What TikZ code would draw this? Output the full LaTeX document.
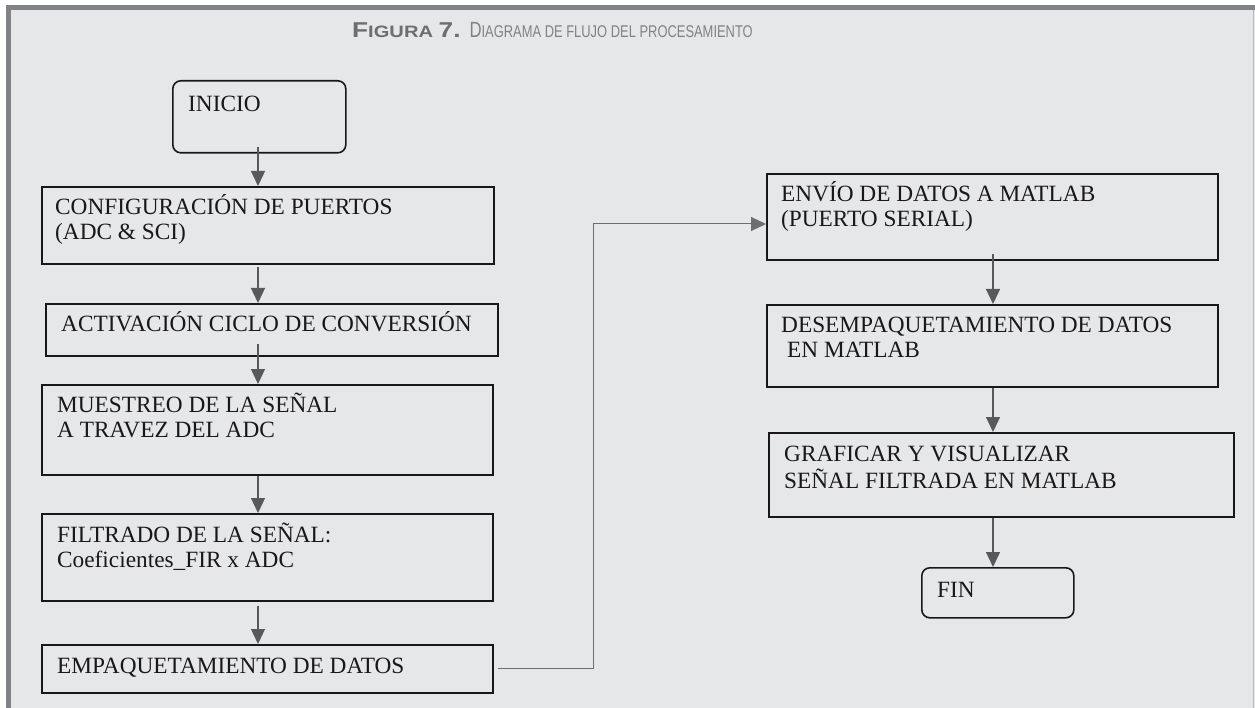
\documentclass[tikz,border=0pt]{standalone}
\usepackage{fontspec}
\setmainfont{Liberation Serif}
\newfontfamily\boxfont{Liberation Serif}
\newfontfamily\titlefont{Liberation Sans}
\usetikzlibrary{arrows.meta,calc}
\definecolor{bg}{HTML}{E6E7E8}
\definecolor{bar}{HTML}{808285}
\definecolor{rline}{HTML}{B8B9BB}
\definecolor{ink}{HTML}{1A1718}
\definecolor{arrowc}{HTML}{58595B}
\definecolor{linkc}{HTML}{6D6E71}
\definecolor{titlec}{HTML}{6D6E71}
\definecolor{titlelc}{HTML}{808285}
\begin{document}
\begin{tikzpicture}[x=1pt,y=-1pt,
  box/.style={draw=ink, line width=1.6pt, rectangle, inner sep=0pt, anchor=north west},
  rbox/.style={box, rounded corners=8pt},
  txt/.style={anchor=base west, inner sep=0pt, text=ink, font=\boxfont\fontsize{23.3}{25}\selectfont},
  arr/.style={draw=arrowc, line width=1.3pt, -{Triangle[length=15pt,width=14pt]}},
  link/.style={draw=linkc, line width=1pt, -{Triangle[length=15pt,width=14pt]}}]
% frame
\fill[white] (0,0) rectangle (1255,708);
\fill[bg] (11,10) rectangle (1255,708);
\fill[bar] (6,5) rectangle (1255,10);
\fill[bar] (6,5) rectangle (11,708);
\fill[rline] (1253,10) rectangle (1254.2,708);
\useasboundingbox (0,0) rectangle (1255,708);
% title
\node[anchor=base west, inner sep=0pt] (title) at (352,38)
  {\titlefont\textcolor{titlec}{\scalebox{1.22}[1]{\bfseries\fontsize{21.5}{18}\selectfont F\fontsize{16.5}{14}\selectfont IGURA \fontsize{21.5}{18}\selectfont 7.}}\hspace{9pt}%
   \textcolor{titlelc}{\scalebox{0.76}[1]{\fontsize{22}{18}\selectfont D\fontsize{17}{14}\selectfont IAGRAMA DE FLUJO DEL PROCESAMIENTO}}};
% boxes
\node[rbox, minimum width=173pt, minimum height=72pt] (inicio) at (172,80) {};
\node[box, minimum width=452pt, minimum height=77pt] (config) at (41,186) {};
\node[box, minimum width=452pt, minimum height=52pt] (activ) at (45,303) {};
\node[box, minimum width=451pt, minimum height=90pt] (muest) at (41,384) {};
\node[box, minimum width=451pt, minimum height=87pt] (filt) at (41,513) {};
\node[box, minimum width=451pt, minimum height=48pt] (empaq) at (41,644) {};
\node[box, minimum width=451pt, minimum height=86pt] (envio) at (766,173) {};
\node[box, minimum width=451pt, minimum height=82pt] (desemp) at (766,304) {};
\node[box, minimum width=465pt, minimum height=84pt] (graf) at (768,432) {};
\node[rbox, minimum width=152pt, minimum height=50pt] (fin) at (921,567) {};
% texts
\node[txt] (tinicio) at ($(inicio.north west)+(16,32)$) {INICIO};
\node[txt] (tconfig) at ($(config.north west)+(14,29)$)
  {\begin{tabular}[t]{@{}l@{}}CONFIGURACIÓN DE PUERTOS\\(ADC \& SCI)\end{tabular}};
\node[txt] (tactiv) at ($(activ.north west)+(16,29)$) {ACTIVACIÓN CICLO DE CONVERSIÓN};
\node[txt] (tmuest) at ($(muest.north west)+(16,28)$)
  {\begin{tabular}[t]{@{}l@{}}MUESTREO DE LA SEÑAL\\A TRAVEZ DEL ADC\end{tabular}};
\node[txt] (tfilt) at ($(filt.north west)+(16,29)$)
  {\begin{tabular}[t]{@{}l@{}}FILTRADO DE LA SEÑAL:\\Coeficientes\_FIR x ADC\end{tabular}};
\node[txt] (tempaq) at ($(empaq.north west)+(16,29)$) {EMPAQUETAMIENTO DE DATOS};
\node[txt] (tenvio) at ($(envio.north west)+(15,29)$)
  {\begin{tabular}[t]{@{}l@{}}ENVÍO DE DATOS A MATLAB\\(PUERTO SERIAL)\end{tabular}};
\node[txt] (tdesemp) at ($(desemp.north west)+(15,29)$)
  {\begin{tabular}[t]{@{}l@{}}DESEMPAQUETAMIENTO DE DATOS\\\hspace*{6pt}EN MATLAB\end{tabular}};
\node[txt] (tgraf) at ($(graf.north west)+(16,29)$)
  {\begin{tabular}[t]{@{}l@{}}GRAFICAR Y VISUALIZAR\\SEÑAL FILTRADA EN MATLAB\end{tabular}};
\node[txt] (tfin) at ($(fin.north west)+(16,30)$) {FIN};
% connectors
\coordinate (ax) at (258,0);
\coordinate (bx) at (993,0);
\coordinate (cx) at (593,0);
\coordinate (lk) at (0,224);
\draw[arr] ($(ax |- inicio.south)+(0,-7)$) -- (ax |- config.north);
\draw[arr] ($(ax |- config.south)+(0,2)$) -- (ax |- activ.north);
\draw[arr] ($(ax |- activ.south)+(0,-13)$) -- (ax |- muest.north);
\draw[arr] (ax |- muest.south) -- (ax |- filt.north);
\draw[arr] ($(ax |- filt.south)+(0,4)$) -- (ax |- empaq.north);
\draw[link] ($(empaq.east)+(4,0)$) -- (empaq.east -| cx) -- (cx |- lk) -- (envio.west |- lk);
\draw[arr] ($(bx |- envio.south)+(0,-7)$) -- (bx |- desemp.north);
\draw[arr] (bx |- desemp.south) -- (bx |- graf.north);
\draw[arr] (bx |- graf.south) -- (bx |- fin.north);
\end{tikzpicture}
\end{document}
